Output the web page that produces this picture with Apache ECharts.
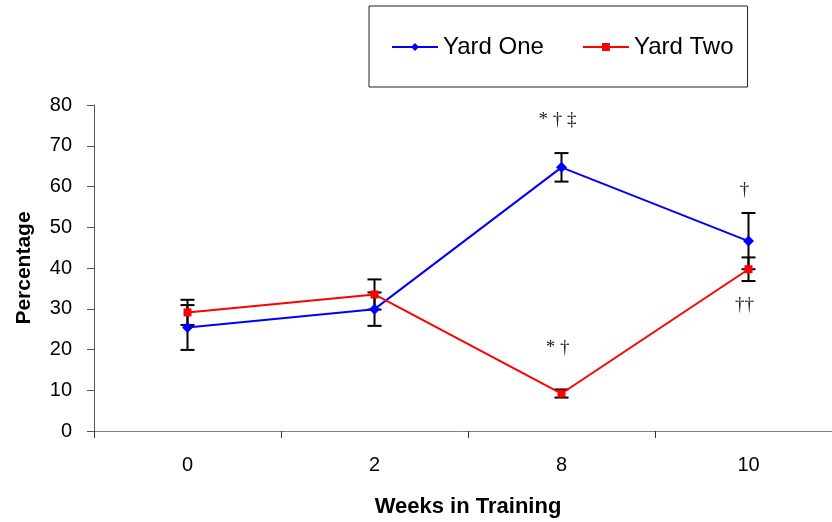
<!DOCTYPE html>
<html>
<head>
<meta charset="utf-8">
<script src="https://cdn.jsdelivr.net/npm/echarts@6/dist/echarts.min.js"></script>
<style>
  html, body { margin: 0; padding: 0; background: #fff; }
  #chart { width: 832px; height: 522px; }
</style>
</head>
<body>
<div id="chart"></div>
<script>
// Weeks in training (category axis)
const weeks = ['0', '2', '8', '10'];

// Mean percentage per yard, with ± error
const yardOne = [25.4, 29.9, 64.7, 46.6];
const yardOneErr = [5.5, 4.1, 3.5, 6.9];
const yardTwo = [29.1, 33.5, 9.2, 39.7];
const yardTwoErr = [3.1, 3.7, 1.0, 2.9];

// Significance symbols and the level (in percentage units) where each is written
const yardOneMarks = ['', '', '* † ‡', '†'];
const yardOneMarkAt = [null, null, 76.2, 59.2];
const yardTwoMarks = ['', '', '* †', '††'];
const yardTwoMarkAt = [null, null, 20.4, 30.8];

const yTicks = { min: 0, max: 80, interval: 10 };

function errorData(vals, errs) {
  return vals.map((v, i) => [i, v, errs[i]]);
}

function renderErrorBar(params, api) {
  const i = api.value(0);
  const v = api.value(1);
  const e = api.value(2);
  const hi = api.coord([i, v + e]);
  const lo = api.coord([i, v - e]);
  const half = 7;
  const style = { stroke: '#000', lineWidth: 2 };
  return {
    type: 'group',
    children: [
      { type: 'line', shape: { x1: hi[0], y1: hi[1], x2: lo[0], y2: lo[1] }, style },
      { type: 'line', shape: { x1: hi[0] - half, y1: hi[1], x2: hi[0] + half, y2: hi[1] }, style },
      { type: 'line', shape: { x1: lo[0] - half, y1: lo[1], x2: lo[0] + half, y2: lo[1] }, style }
    ]
  };
}

function markData(marks, levels) {
  const out = [];
  marks.forEach((m, i) => { if (m) out.push([i, levels[i], m]); });
  return out;
}

const markSource = [markData(yardOneMarks, yardOneMarkAt), markData(yardTwoMarks, yardTwoMarkAt)];

function renderMark(params, api) {
  const p = api.coord([api.value(0), api.value(1)]);
  const text = markSource[params.seriesIndex - 4][params.dataIndex][2];
  return {
    type: 'text',
    x: p[0] - 4,
    y: p[1],
    style: {
      text: text,
      fill: '#222',
      font: '19px "Liberation Serif", "DejaVu Serif", serif',
      align: 'center',
      verticalAlign: 'middle'
    }
  };
}

const chart = echarts.init(document.getElementById('chart'), null, { renderer: 'canvas' });

chart.setOption({
  animation: false,
  backgroundColor: '#fff',
  textStyle: { fontFamily: '"Liberation Sans", Arial, sans-serif' },
  grid: { left: 94, top: 105, bottom: 91, right: -10, containLabel: false, outerBoundsMode: 'none' },
  legend: {
    data: ['Yard One', 'Yard Two'],
    left: 369,
    top: 6,
    padding: [29, 14, 28, 22],
    itemGap: 38,
    itemWidth: 46,
    itemHeight: 10,
    borderColor: '#222',
    borderWidth: 1,
    textStyle: { fontSize: 24, color: '#000', fontFamily: '"Liberation Sans", Arial, sans-serif' }
  },
  xAxis: {
    type: 'category',
    data: weeks,
    boundaryGap: true,
    name: 'Weeks in Training',
    nameLocation: 'middle',
    nameGap: 65,
    nameTextStyle: { fontSize: 22, fontWeight: 'bold', color: '#000' },
    axisLine: { show: true, lineStyle: { color: '#808080', width: 1 } },
    axisTick: { show: true, length: 7, lineStyle: { color: '#333' } },
    axisLabel: { fontSize: 20, color: '#000', margin: 24 },
    splitLine: { show: false }
  },
  yAxis: {
    type: 'value',
    min: yTicks.min,
    max: yTicks.max,
    interval: yTicks.interval,
    name: 'Percentage',
    nameLocation: 'middle',
    nameGap: 59,
    nameRotate: 90,
    nameTextStyle: { fontSize: 21, fontWeight: 'bold', color: '#000' },
    axisLine: { show: true, lineStyle: { color: '#555', width: 1 } },
    axisTick: { show: true, length: 7, lineStyle: { color: '#555' } },
    axisLabel: { fontSize: 20, color: '#000', margin: 22 },
    splitLine: { show: false }
  },
  series: [
    {
      type: 'custom',
      name: 'err1',
      renderItem: renderErrorBar,
      data: errorData(yardOne, yardOneErr),
      z: 1,
      silent: true
    },
    {
      type: 'custom',
      name: 'err2',
      renderItem: renderErrorBar,
      data: errorData(yardTwo, yardTwoErr),
      z: 1,
      silent: true
    },
    {
      type: 'line',
      name: 'Yard One',
      data: yardOne,
      symbol: 'diamond',
      symbolSize: 11,
      color: '#0000ff',
      lineStyle: { color: '#0000ff', width: 2 },
      itemStyle: { color: '#0000ff' },
      z: 3
    },
    {
      type: 'line',
      name: 'Yard Two',
      data: yardTwo,
      symbol: 'rect',
      symbolSize: 8,
      color: '#ff0000',
      lineStyle: { color: '#ff0000', width: 2 },
      itemStyle: { color: '#ff0000' },
      z: 3
    },
    {
      type: 'custom',
      name: 'marks1',
      renderItem: renderMark,
      data: markSource[0],
      z: 4,
      silent: true
    },
    {
      type: 'custom',
      name: 'marks2',
      renderItem: renderMark,
      data: markSource[1],
      z: 4,
      silent: true
    }
  ]
});
</script>
</body>
</html>
